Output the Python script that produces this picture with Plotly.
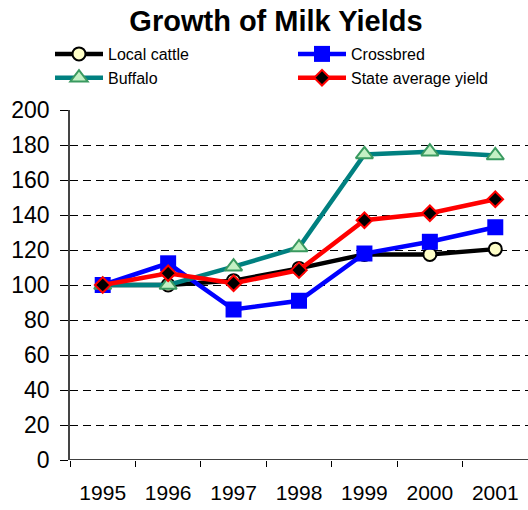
import plotly.graph_objects as go

years = ["1995", "1996", "1997", "1998", "1999", "2000", "2001"]
local_cattle = [100, 100, 102.5, 109.5, 117.5, 117.5, 120.5]
crossbred = [100, 112.4, 86, 91, 118, 124.7, 133]
buffalo = [100, 100, 110.5, 121.5, 174.6, 176.2, 174]
state_avg = [100, 106.7, 101, 108.5, 137, 141, 149]

FONT = "Liberation Sans, Arial, sans-serif"

fig = go.Figure()
fig.add_trace(go.Scatter(
    x=years, y=local_cattle, name="Local cattle", mode="lines+markers",
    line=dict(color="black", width=4.5),
    marker=dict(symbol="circle", size=13, color="#FFFFC8", line=dict(color="black", width=2)),
))
fig.add_trace(go.Scatter(
    x=years, y=crossbred, name="Crossbred", mode="lines+markers",
    line=dict(color="#0000FF", width=4.5),
    marker=dict(symbol="square", size=16, color="#0000FF", line=dict(color="#0000FF", width=0)),
))
fig.add_trace(go.Scatter(
    x=years, y=buffalo, name="Buffalo", mode="lines+markers",
    line=dict(color="#008080", width=4.5),
    marker=dict(symbol="triangle-up", size=15, color="#C4F0C4", line=dict(color="#3A9A60", width=2)),
))
fig.add_trace(go.Scatter(
    x=years, y=state_avg, name="State average yield", mode="lines+markers",
    line=dict(color="#FF0000", width=4.5),
    marker=dict(symbol="diamond", size=12, color="black", line=dict(color="#FF0000", width=2)),
))

fig.update_layout(
    width=528, height=510,
    margin=dict(l=70, r=0, t=110, b=50, autoexpand=False),
    paper_bgcolor="white", plot_bgcolor="white",
    font=dict(family=FONT, color="black"),
    title=dict(text="<b>Growth of Milk Yields</b>", x=276 / 528, xref="container", xanchor="center",
               y=1 - 21 / 510, yref="container", yanchor="middle",
               font=dict(size=29, family=FONT, color="black")),
    showlegend=True,
    legend=dict(orientation="h", x=(50 - 70) / 458, xanchor="left",
                y=1 + (110 - 37) / 350, yanchor="top",
                xref="paper", yref="paper",
                entrywidth=180, entrywidthmode="pixels", itemwidth=48,
                font=dict(size=16, family=FONT, color="black"),
                bgcolor="rgba(0,0,0,0)", tracegroupgap=0, traceorder="normal"),
    xaxis=dict(type="category", range=[-0.5, 6.5], showgrid=False, zeroline=False,
               showline=False, ticks="outside", tickson="boundaries", ticklen=6,
               tickcolor="black", tickwidth=1, automargin=False,
               tickfont=dict(size=21, family=FONT, color="black"), ticklabelstandoff=18),
    yaxis=dict(range=[0, 200], dtick=20, tick0=0, showgrid=True, gridcolor="black",
               griddash="8px,5px", gridwidth=1, zeroline=False, showline=True,
               linecolor="#444444", linewidth=1.5, ticks="outside", ticklen=8,
               tickcolor="black", tickwidth=1, automargin=False,
               tickfont=dict(size=23, family=FONT, color="black"), ticklabelstandoff=6),
)
fig.add_hline(y=0, line=dict(color="black", width=1.5), layer="below")

fig.write_html(
    "out.html",
    config={"displayModeBar": False},
    post_script="document.body.style.margin='0';document.body.style.overflow='hidden';",
)
